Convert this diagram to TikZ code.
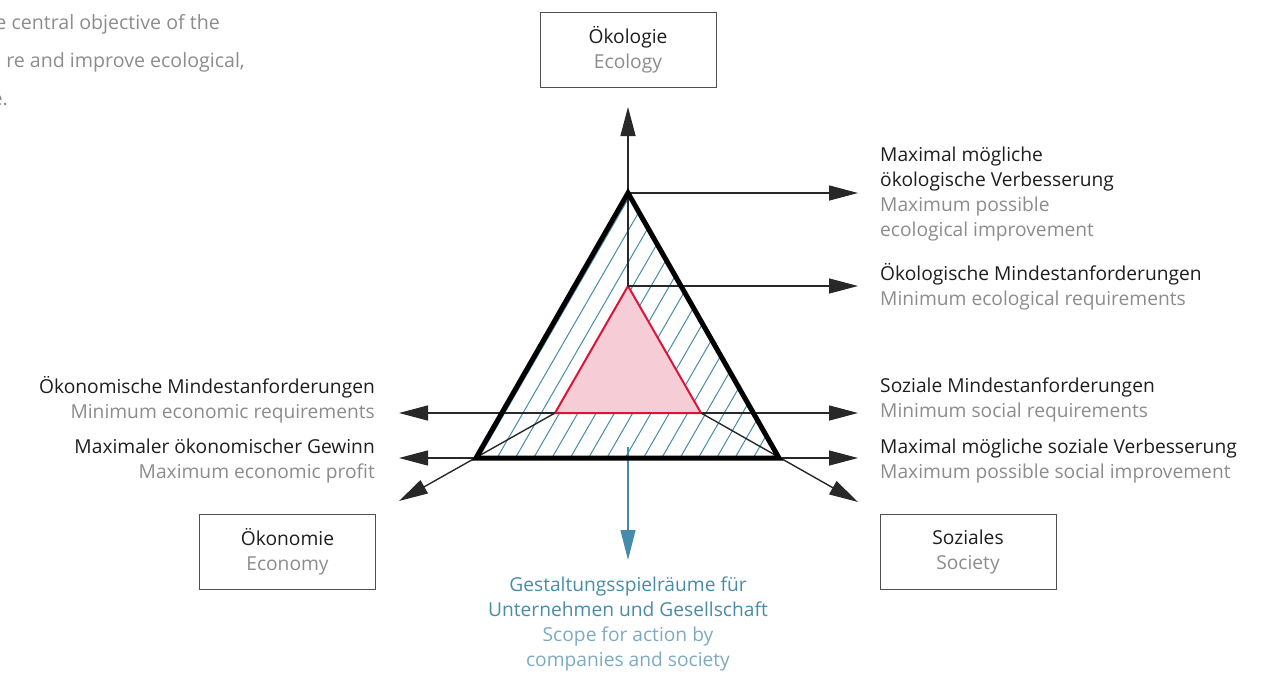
\documentclass[tikz,border=0pt]{standalone}
\usepackage{fontspec}
\setmainfont{Open Sans}
\usepackage{xcolor}
\usetikzlibrary{arrows.meta, positioning, calc}
\definecolor{EcoBlack}{RGB}{30,30,30}
\definecolor{TxtGray}{RGB}{140,140,140}
\definecolor{ScopeBlue}{RGB}{72,140,168}
\definecolor{ScopeLight}{RGB}{125,170,195}
\definecolor{HatchBlue}{RGB}{70,140,170}
\definecolor{InnerRed}{RGB}{220,20,55}
\definecolor{InnerPink}{RGB}{246,205,214}
\definecolor{BoxLine}{RGB}{80,80,80}
\definecolor{LineGray}{RGB}{40,40,40}
\tikzset{
  pillar/.style={
    rectangle, draw=BoxLine, line width=1pt,
    minimum width=176pt, minimum height=75pt, inner sep=0pt,
    align=center, font=\fontsize{19.2}{25}\selectfont, text=EcoBlack
  },
  lbl/.style={inner sep=0pt, font=\fontsize{19.2}{25}\selectfont, text=EcoBlack},
  intro/.style={inner sep=0pt, font=\fontsize{19.6}{38}\selectfont, text=TxtGray},
  arr/.style={-{Triangle[length=29pt,width=15pt]}, draw=LineGray, line width=1.4pt},
  barr/.style={-{Triangle[length=30pt,width=15pt]}, draw=HatchBlue, line width=1.4pt},
  hatch/.style={draw=HatchBlue, line width=1pt},
  outer/.style={draw=black, line width=5pt, line join=miter},
  inner/.style={draw=InnerRed, fill=InnerPink, line width=2pt, line join=miter}
}
\begin{document}
\begin{tikzpicture}[x=1pt, y=-1pt]
  \useasboundingbox (0,0) rectangle (1268,674);

  % Triangle corners
  \coordinate (oA) at (628,193);
  \coordinate (oL) at (476,458);
  \coordinate (oR) at (779,458);
  \coordinate (iA) at (628,286);
  \coordinate (iL) at (555,413);
  \coordinate (iR) at (701,413);

  % Arrow ends
  \coordinate (tipTop)     at (628,107);
  \coordinate (tipEcoMax)  at (858,193);
  \coordinate (tipEcoMin)  at (858,286);
  \coordinate (tipSocMin)  at (858,413);
  \coordinate (tipSocMax)  at (858,458);
  \coordinate (tipSoc)     at (858,502);
  \coordinate (tipEconMin) at (399,413);
  \coordinate (tipEconMax) at (399,458);
  \coordinate (tipEcon)    at (399,501);
  \coordinate (scopeTop)   at (628,447);
  \coordinate (tipScope)   at (628,560);

  % Hatched band
  \begin{scope}
    \clip (oA) -- (oL) -- (oR) -- cycle;
    \foreach \k in {-2,...,17} {
      \draw[hatch] (490.1+18.3*\k, 470) -- ++(173,-300);
    }
  \end{scope}
  \draw[inner] (iA) -- (iL) -- (iR) -- cycle;

  % Arrows
  \draw[arr] (iA) -- (tipTop);
  \draw[arr] (oA) -- (tipEcoMax);
  \draw[arr] (iA) -- (tipEcoMin);
  \draw[arr] (iR) -- (tipSocMin);
  \draw[arr] (oR) -- (tipSocMax);
  \draw[arr] (iR) -- (tipSoc);
  \draw[arr] (iL) -- (tipEconMin);
  \draw[arr] (oL) -- (tipEconMax);
  \draw[arr] (iL) -- (tipEcon);
  \draw[barr] (scopeTop) -- (tipScope);
  \draw[outer] (oA) -- (oL) -- (oR) -- cycle;

  % Pillars
  \node[pillar] (eco)  at (628,50)  {Ökologie\\\textcolor{TxtGray}{Ecology}};
  \node[pillar] (econ) at (287.5,552) {Ökonomie\\\textcolor{TxtGray}{Economy}};
  \node[pillar] (soc)  at (968,552)   {Soziales\\\textcolor{TxtGray}{Society}};

  % Labels
  \node[lbl, anchor=west, align=left] (ecoMaxLbl) at (880,194)
       {Maximal mögliche\\ökologische Verbesserung\\
        \textcolor{TxtGray}{Maximum possible}\\\textcolor{TxtGray}{ecological improvement}};
  \node[lbl, anchor=west, align=left] (ecoMinLbl) at (880,287)
       {Ökologische Mindestanforderungen\\\textcolor{TxtGray}{Minimum ecological requirements}};
  \node[lbl, anchor=west, align=left] (socMinLbl) at (880,400)
       {Soziale Mindestanforderungen\\\textcolor{TxtGray}{Minimum social requirements}};
  \node[lbl, anchor=west, align=left] (socMaxLbl) at (880,461)
       {Maximal mögliche soziale Verbesserung\\\textcolor{TxtGray}{Maximum possible social improvement}};
  \node[lbl, anchor=east, align=right] (econMinLbl) at (375,400)
       {Ökonomische Mindestanforderungen\\\textcolor{TxtGray}{Minimum economic requirements}};
  \node[lbl, anchor=east, align=right] (econMaxLbl) at (375,461)
       {Maximaler ökonomischer Gewinn\\\textcolor{TxtGray}{Maximum economic profit}};
  \node[lbl, anchor=center, align=center] (scopeLbl) at (628,624)
       {\textcolor{ScopeBlue}{Gestaltungsspielräume für}\\\textcolor{ScopeBlue}{Unternehmen und Gesellschaft}\\
        \textcolor{ScopeLight}{Scope for action by}\\\textcolor{ScopeLight}{companies and society}};

  % Cut-off text of the next column
  \node[intro, anchor=base east] (intro1) at (220,30)  {e central objective of the};
  \node[intro, anchor=base east] (intro2) at (245,68)  {re and improve ecological,};
  \node[intro, anchor=base east] (intro3) at (8,106)   {e.};
\end{tikzpicture}
\end{document}
